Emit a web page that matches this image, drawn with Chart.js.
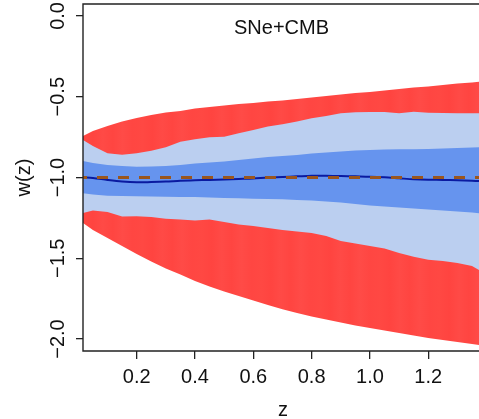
<!DOCTYPE html>
<html>
<head>
<meta charset="utf-8">
<script src="https://cdn.jsdelivr.net/npm/chart.js@4.4.1/dist/chart.umd.min.js"></script>
<style>
  html, body { margin: 0; padding: 0; background: #fff; }
</style>
</head>
<body>
<canvas id="wzChart" width="479" height="419"></canvas>
<script>
// redshift grid and w(z) reconstruction bands
const zGrid = [0.016, 0.05, 0.1, 0.15, 0.2, 0.25, 0.3, 0.35, 0.4, 0.45, 0.5, 0.55, 0.6, 0.65, 0.7,
  0.75, 0.8, 0.85, 0.9, 0.95, 1.0, 1.05, 1.1, 1.15, 1.2, 1.25, 1.3, 1.35, 1.374];

const redUpper = [-0.743, -0.712, -0.681, -0.653, -0.632, -0.613, -0.598, -0.588, -0.573, -0.563,
  -0.554, -0.545, -0.539, -0.529, -0.523, -0.514, -0.505, -0.495, -0.486, -0.477, -0.471, -0.461,
  -0.452, -0.443, -0.437, -0.427, -0.418, -0.412, -0.407];
const redLower = [-1.282, -1.325, -1.375, -1.424, -1.474, -1.520, -1.563, -1.601, -1.641, -1.675,
  -1.706, -1.734, -1.762, -1.789, -1.816, -1.839, -1.861, -1.879, -1.898, -1.916, -1.932, -1.947,
  -1.963, -1.978, -1.993, -2.006, -2.019, -2.031, -2.037];

const lightUpper = [-0.768, -0.805, -0.850, -0.859, -0.850, -0.834, -0.813, -0.778, -0.763, -0.751,
  -0.747, -0.726, -0.706, -0.685, -0.671, -0.654, -0.633, -0.619, -0.602, -0.596, -0.594, -0.594,
  -0.602, -0.593, -0.599, -0.601, -0.602, -0.602, -0.602];
const lightLower = [-1.220, -1.204, -1.214, -1.241, -1.240, -1.245, -1.256, -1.260, -1.266, -1.260,
  -1.276, -1.291, -1.300, -1.313, -1.325, -1.334, -1.344, -1.362, -1.393, -1.409, -1.424, -1.440,
  -1.467, -1.490, -1.509, -1.517, -1.529, -1.548, -1.573];

const darkUpper = [-0.898, -0.910, -0.923, -0.929, -0.933, -0.932, -0.929, -0.923, -0.913, -0.907,
  -0.901, -0.892, -0.882, -0.873, -0.867, -0.861, -0.851, -0.845, -0.839, -0.833, -0.830, -0.827,
  -0.825, -0.825, -0.824, -0.820, -0.817, -0.814, -0.813];
const darkLower = [-1.098, -1.105, -1.113, -1.115, -1.116, -1.118, -1.119, -1.120, -1.121, -1.124,
  -1.127, -1.129, -1.131, -1.133, -1.135, -1.139, -1.142, -1.149, -1.155, -1.164, -1.173, -1.180,
  -1.186, -1.192, -1.198, -1.204, -1.211, -1.217, -1.222];

const wMean = [-0.999, -1.003, -1.015, -1.025, -1.030, -1.028, -1.025, -1.020, -1.017, -1.015,
  -1.012, -1.009, -1.006, -1.000, -0.997, -0.993, -0.989, -0.989, -0.991, -0.993, -0.995, -0.999,
  -1.005, -1.011, -1.014, -1.015, -1.017, -1.020, -1.022];

// cosmological constant reference
const lambdaZ = [0.016, 1.374];
const lambdaW = [-1, -1];

const xTicks = [0.2, 0.4, 0.6, 0.8, 1.0, 1.2];
const xTickLabels = ['0.2', '0.4', '0.6', '0.8', '1.0', '1.2'];
const yTicks = [0, -0.5, -1, -1.5, -2];
const yTickLabels = ['0.0', '\u22120.5', '\u22121.0', '\u22121.5', '\u22122.0'];

const panelTitle = 'SNe+CMB';
const xTitle = 'z';
const yTitle = 'w(z)';

const FONT = '"Liberation Sans", Arial, Helvetica, sans-serif';

const pts = (xs, ys) => xs.map((x, i) => ({ x: x, y: ys[i] }));

// the outer band is rendered as thin vertical strips, so give it a faint banding
const redShades = ['#ff4843', '#ff4440', '#ff4a46', '#ff4541', '#ff4b47', '#ff4642'];
function stripedRed(context) {
  const area = context.chart.chartArea;
  if (!area) return '#ff4843';
  const g = context.chart.ctx.createLinearGradient(area.left, 0, area.right, 0);
  const n = 40;
  for (let i = 0; i <= n; i++) {
    g.addColorStop(i / n, redShades[(i * 7) % redShades.length]);
  }
  return g;
}

function band(data, color, fill) {
  return {
    data: data,
    borderWidth: 0,
    borderColor: 'rgba(0,0,0,0)',
    backgroundColor: color,
    pointRadius: 0,
    tension: 0,
    fill: fill
  };
}

// box, rotated y labels and titles
const frameAndLabels = {
  id: 'frameAndLabels',
  afterDraw(chart) {
    const { ctx, chartArea: a, scales } = chart;
    ctx.save();
    ctx.strokeStyle = '#222';
    ctx.lineWidth = 1.4;
    ctx.beginPath();
    ctx.moveTo(a.right + 4, a.top);
    ctx.lineTo(a.left, a.top);
    ctx.lineTo(a.left, a.bottom);
    ctx.lineTo(a.right + 4, a.bottom);
    ctx.stroke();

    ctx.fillStyle = '#111';
    ctx.font = '20px ' + FONT;
    ctx.textAlign = 'center';
    ctx.textBaseline = 'alphabetic';

    yTicks.forEach((v, i) => {
      const py = scales.y.getPixelForValue(v);
      ctx.save();
      ctx.translate(63.5, py);
      ctx.rotate(-Math.PI / 2);
      ctx.fillText(yTickLabels[i], 0, 0);
      ctx.restore();
    });

    ctx.save();
    ctx.translate(29.5, (a.top + a.bottom) / 2);
    ctx.rotate(-Math.PI / 2);
    ctx.fillText(yTitle, 0, 0);
    ctx.restore();

    ctx.fillText(xTitle, (a.left + a.right) / 2 + 2, 416);
    ctx.fillText(panelTitle, 281.5, 33.5);
    ctx.restore();
  }
};

const ctx = document.getElementById('wzChart').getContext('2d');
new Chart(ctx, {
  type: 'line',
  data: {
    datasets: [
      {
        data: pts(lambdaZ, lambdaW),
        borderColor: '#9a561e',
        borderWidth: 3,
        borderDash: [11, 10],
        borderDashOffset: 7,
        pointRadius: 0,
        fill: false
      },
      {
        data: pts(zGrid, wMean),
        borderColor: '#0a1aa0',
        borderWidth: 2,
        pointRadius: 0,
        tension: 0.3,
        fill: false
      },
      band(pts(zGrid, darkUpper), '#6694ee', '+1'),
      band(pts(zGrid, darkLower), '#6694ee', false),
      band(pts(zGrid, lightUpper), '#bbcff0', '+1'),
      band(pts(zGrid, lightLower), '#bbcff0', false),
      band(pts(zGrid, redUpper), stripedRed, '+1'),
      band(pts(zGrid, redLower), '#ff4843', false)
    ]
  },
  options: {
    responsive: false,
    animation: false,
    layout: { padding: { top: 4, right: 0, left: 0, bottom: 0 } },
    plugins: {
      legend: { display: false },
      tooltip: { enabled: false },
      title: { display: false }
    },
    scales: {
      x: {
        type: 'linear',
        min: 0.016,
        max: 1.374,
        afterBuildTicks: (s) => { s.ticks = xTicks.map(v => ({ value: v })); },
        afterFit: (s) => { s.height = 68; },
        grid: { drawOnChartArea: false, drawTicks: true, tickLength: 8, color: '#222', lineWidth: 1.3 },
        border: { display: false },
        ticks: {
          color: '#111',
          font: { size: 20, family: FONT },
          padding: 6,
          maxRotation: 0,
          autoSkip: false,
          callback: (v) => xTickLabels[xTicks.indexOf(v)]
        }
      },
      y: {
        type: 'linear',
        min: -2.074,
        max: 0.074,
        afterBuildTicks: (s) => { s.ticks = yTicks.map(v => ({ value: v })); },
        afterFit: (s) => { s.width = 83; },
        grid: { drawOnChartArea: false, drawTicks: true, tickLength: 7, color: '#222', lineWidth: 1.3 },
        border: { display: false },
        ticks: { display: false }
      }
    }
  },
  plugins: [frameAndLabels]
});
</script>
</body>
</html>
